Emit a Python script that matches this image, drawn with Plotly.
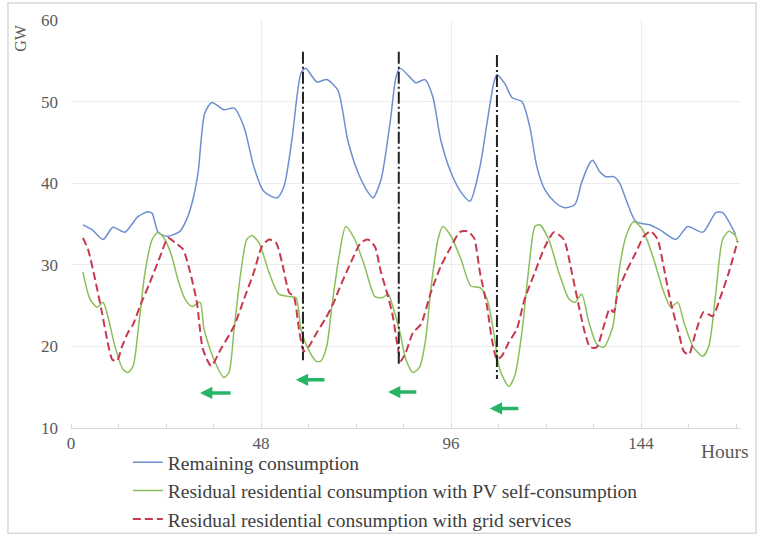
import plotly.graph_objects as go

# ---------------- data ----------------
blue_h = [3.0, 5.3, 8.1, 10.6, 13.6, 16.9, 19.4, 20.5, 22.0, 24.2, 27.5, 29.5, 30.8, 32.1, 33.8,
          35.6, 38.6, 41.2, 43.7, 46.2, 48.7, 52.0, 53.8, 55.8, 58.1, 59.3, 62.1, 64.6, 67.4,
          69.9, 72.5, 75.0, 76.3, 78.3, 80.6, 82.1, 83.1, 85.6, 87.1, 89.4, 91.4, 93.4, 96.0,
          98.5, 100.8, 103.3, 105.1, 106.8, 107.6, 109.6, 111.4, 113.9, 115.9, 117.7, 119.7,
          122.2, 124.7, 127.3, 129.0, 131.1, 131.8, 133.6, 135.1, 137.1, 138.6, 140.2, 142.7,
          146.2, 148.7, 152.8, 155.8, 159.6, 162.9, 164.6, 167.9]
blue_v = [34.9, 34.3, 33.1, 34.6, 34.0, 35.9, 36.5, 36.3, 34.0, 33.5, 34.1, 35.9, 38.0, 41.3, 48.6,
          49.9, 49.0, 49.2, 46.9, 42.0, 39.0, 38.2, 39.6, 45.3, 53.5, 54.1, 52.4, 52.7, 51.4,
          45.3, 41.3, 38.9, 38.2, 40.4, 47.4, 53.0, 54.1, 53.0, 52.3, 52.7, 50.6, 45.3, 41.3,
          38.9, 37.8, 42.0, 47.4, 52.3, 53.3, 52.2, 50.5, 50.0, 46.9, 42.0, 39.2,
          37.7, 37.0, 37.4, 40.1, 42.5, 42.8, 41.4, 40.8, 40.8, 40.0, 38.0, 35.3,
          34.9, 34.3, 33.1, 34.7, 34.0, 36.4, 36.4, 33.7]

green_h = [3.0, 4.8, 6.6, 8.1, 9.3, 11.1, 13.1, 14.4, 15.7, 16.9, 18.7, 20.5, 22.0, 23.7, 25.5,
           27.0, 28.8, 30.6, 32.6, 33.6, 36.1, 38.6, 39.9, 41.2, 42.9, 44.4, 45.7, 47.5, 50.0,
           52.5, 55.1, 56.8, 58.1, 59.6, 61.9, 63.1, 64.6, 65.9, 67.7, 69.4, 71.7, 74.2, 76.8,
           78.8, 80.1, 81.3, 83.1, 84.6, 86.4, 88.1, 89.6, 90.9, 92.7, 93.9, 96.0, 98.5, 101.0,
           103.3, 105.1, 106.8, 108.3, 110.6, 112.1, 113.9, 115.7, 117.2, 118.4, 120.7, 123.2,
           125.8, 127.3, 129.0, 130.8, 132.8, 134.6, 136.9, 138.4, 140.2, 142.2, 144.4, 147.0,
           149.5, 151.5, 153.3, 154.8, 157.1, 159.6, 161.1, 162.9, 164.6, 166.2, 167.9, 168.4]
green_v = [29.1, 25.8, 24.8, 25.4, 23.7, 20.0, 17.2, 16.8, 17.6, 21.7, 29.1, 33.1, 34.0, 33.1, 31.0,
           28.2, 25.8, 24.9, 25.4, 22.1, 18.4, 16.2, 16.8, 22.1, 29.1, 33.1, 33.6, 32.7, 29.1,
           26.4, 26.1, 26.0, 22.1, 20.0, 18.2, 18.2, 20.0, 24.9, 31.0, 34.7, 33.1, 29.8, 26.1,
           26.0, 26.4, 24.9, 21.7, 18.4, 16.8, 17.5, 20.9, 27.0, 33.1, 34.7, 33.5, 30.7, 27.4,
           27.2, 25.8, 21.7, 17.2, 15.1, 16.4, 21.7, 29.8, 34.7, 34.9, 33.1, 29.1,
           25.8, 25.4, 26.4, 23.0, 20.3, 19.9, 22.5, 29.1, 33.5, 35.3, 34.3, 31.0,
           27.0, 24.8, 25.4, 23.0, 20.0, 18.8, 20.0, 26.6, 33.1, 34.1, 33.5, 32.7]

red_h = [3.0, 4.3, 6.1, 7.8, 9.1, 10.4, 11.6, 12.9, 14.4, 15.7, 17.4, 19.9, 22.5, 24.5, 26.3,
         28.3, 30.1, 31.8, 33.3, 35.4, 37.9, 41.2, 43.7, 46.2, 48.2, 50.0, 51.8, 53.3, 55.1,
         56.3, 57.6, 58.8, 60.1, 62.1, 64.4, 66.4, 67.7, 70.7, 73.2, 75.0, 76.8, 78.3, 80.1,
         81.3, 82.6, 83.3, 84.6, 86.4, 88.4, 90.9, 93.4, 96.0, 98.2, 100.3, 101.5, 102.0,
         103.3, 105.1, 106.3, 107.6, 108.8, 110.6, 112.6, 114.6, 117.2, 119.7, 122.0, 124.5,
         126.5, 128.3, 129.8, 131.1, 132.8, 134.6, 136.1, 137.1, 138.1, 140.2, 142.7, 144.7,
         146.5, 148.2, 149.7, 151.5, 153.5, 154.8, 156.1, 157.8, 159.8, 162.1, 164.1, 166.2, 168.4]
red_v = [33.3, 31.9, 28.2, 24.2, 20.9, 18.4, 18.2, 20.0, 21.7, 22.7, 24.9, 27.8, 31.0, 33.3, 32.7,
         31.9, 29.1, 25.4, 19.7, 17.6, 19.7, 22.5, 25.8, 29.1, 32.2, 33.1, 32.7, 30.3, 26.6,
         26.1, 22.1, 19.4, 20.0, 21.7, 23.5, 25.4, 27.0, 30.3, 32.7, 33.1, 32.2, 29.1, 26.1,
         23.7, 19.7, 18.2, 19.3, 21.7, 22.7, 26.6, 29.8, 32.2, 34.0, 34.1, 33.5, 33.1,
         29.1, 24.9, 20.9, 18.4, 18.8, 20.5, 22.1, 25.8, 29.1, 32.2, 34.0, 33.1,
         29.1, 24.9, 21.7, 19.9, 19.9, 22.5, 24.6, 24.2, 26.6, 29.1, 31.5, 33.5,
         34.1, 33.1, 29.8, 25.4, 21.7, 19.4, 19.0, 21.7, 24.2, 23.7, 26.1, 29.1, 32.9]

# vertical dash-dot markers (hour, top GW, bottom GW)
vline_h = [58.6, 82.8, 107.6]
vline_top = [56.1, 56.1, 55.7]
vline_bot = [18.3, 17.5, 16.0]

# green shift arrows (tail hour, head hour, GW)
arrow_tail = [40.7, 64.4, 87.6, 113.4]
arrow_head = [32.6, 56.8, 80.1, 105.8]
arrow_y = [14.3, 15.9, 14.4, 12.4]

x_ticks = [0, 48, 96, 144]
y_ticks = [10, 20, 30, 40, 50, 60]

names = ["Remaining consumption",
         "Residual residential consumption with PV self-consumption",
         "Residual residential consumption with grid services"]

FONT = "Liberation Serif, Times New Roman, serif"
GREY = "#595959"

fig = go.Figure()
fig.add_trace(go.Scatter(x=blue_h, y=blue_v, mode="lines", name=names[0], legendgroup="a",
                         line=dict(color="#6d8fd0", width=1.5, shape="spline", smoothing=0.7)))
fig.add_trace(go.Scatter(x=green_h, y=green_v, mode="lines", name=names[1], legendgroup="b",
                         line=dict(color="#8cbf5a", width=1.5, shape="spline", smoothing=0.7)))
fig.add_trace(go.Scatter(x=red_h, y=red_v, mode="lines", name=names[2], legendgroup="c",
                         line=dict(color="#c8384e", width=2, dash="8px,4px", shape="spline",
                                   smoothing=0.6)))

for h, t, b in zip(vline_h, vline_top, vline_bot):
    fig.add_trace(go.Scatter(x=[h, h], y=[t, b], mode="lines", showlegend=False,
                             hoverinfo="skip",
                             line=dict(color="#222222", width=2, dash="12px,3px,2px,3px")))

for t, hd, y in zip(arrow_tail, arrow_head, arrow_y):
    fig.add_annotation(x=hd, y=y, ax=t, ay=y, xref="x", yref="y", axref="x", ayref="y",
                       text="", showarrow=True, arrowhead=2, arrowsize=0.7, arrowwidth=3.5,
                       arrowcolor="#27b466")

# outer frame
fig.add_shape(type="rect", xref="paper", yref="paper", x0=-0.0942, x1=1.024, y0=-0.258, y1=1.0417,
              line=dict(color="#d9d9d9", width=1.5), fillcolor="rgba(0,0,0,0)", layer="below")

fig.add_annotation(text="GW", xref="paper", yref="paper", x=-0.076, y=0.957, textangle=-90,
                   xanchor="center", yanchor="middle",
                   showarrow=False, font=dict(family=FONT, size=16, color=GREY))
fig.add_annotation(text="Hours", xref="paper", yref="paper", x=0.978, y=-0.058,
                   xanchor="center", yanchor="middle",
                   showarrow=False, font=dict(family=FONT, size=19.5, color=GREY))

fig.update_layout(
    width=762, height=536,
    margin=dict(l=71, r=22, t=20, b=108, autoexpand=False),
    paper_bgcolor="white", plot_bgcolor="white",
    font=dict(family=FONT, size=17, color=GREY),
    showlegend=True,
    legend=dict(x=0.085, y=-0.037, xanchor="left", yanchor="top", traceorder="grouped",
                tracegroupgap=0, itemwidth=30, bgcolor="rgba(0,0,0,0)",
                font=dict(family=FONT, size=19.5, color="#404040")),
    xaxis=dict(range=[0, 169], tickvals=x_ticks, showgrid=True, gridcolor="#ececec",
               zeroline=False, showline=True, linecolor="#d9d9d9", ticks="",
               tickfont=dict(family=FONT, size=17, color=GREY),
               minor=dict(dtick=12, ticks="inside", ticklen=4, tickcolor="#d9d9d9",
                          showgrid=False)),
    yaxis=dict(range=[10, 60], tickvals=y_ticks, showgrid=True, gridcolor="#ececec",
               zeroline=False, showline=False, ticks="", ticklabelstandoff=12,
               tickfont=dict(family=FONT, size=17, color=GREY)),
)

fig.write_html("out.html")
